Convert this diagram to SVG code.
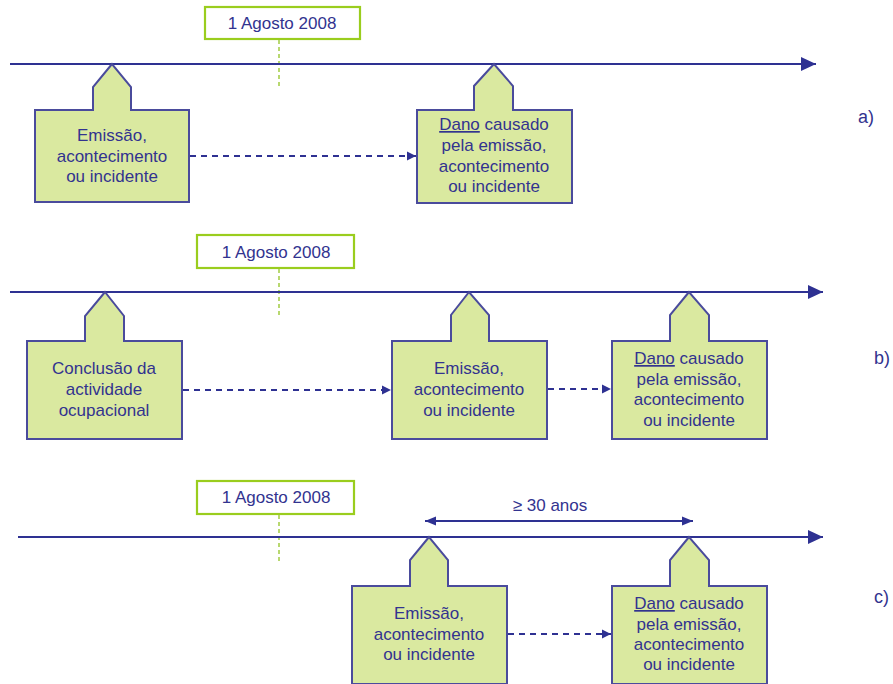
<svg xmlns="http://www.w3.org/2000/svg" width="893" height="684" viewBox="0 0 893 684">
<defs>
<style>
text{font-family:"Liberation Sans",Arial,sans-serif;font-size:17px;fill:#32338f;text-anchor:middle}
.box{fill:#dae9a0;stroke:#4a4b9c;stroke-width:2;stroke-linejoin:miter}
.date{fill:#fff;stroke:#9acd1e;stroke-width:2.2}
.vdot{stroke:#b8d870;stroke-width:2;stroke-dasharray:4,3}
.tl{stroke:#2e3192;stroke-width:2;fill:none}
.dash{stroke:#2e3192;stroke-width:1.8;stroke-dasharray:6,5;fill:none}
.lbl{font-size:18px;text-anchor:start}
</style>
<marker id="big" markerWidth="16" markerHeight="14" refX="15" refY="7" orient="auto" markerUnits="userSpaceOnUse"><path d="M0,0 L15,7 L0,14 Z" fill="#2e3192"/></marker>
<marker id="sm" markerWidth="10" markerHeight="10" refX="9" refY="5" orient="auto" markerUnits="userSpaceOnUse"><path d="M0,0.5 L9,5 L0,9.5 Z" fill="#2e3192"/></marker>
<marker id="smr" markerWidth="12" markerHeight="10" refX="11" refY="5" orient="auto-start-reverse" markerUnits="userSpaceOnUse"><path d="M0,0.5 L11,5 L0,9.5 Z" fill="#2e3192"/></marker>
</defs>

<!-- Panel a -->
<g id="date-a"><rect class="date" x="205" y="7" width="155" height="32"/><text x="282" y="29">1 Agosto 2008</text></g>
<g id="timeline-a"><line class="vdot" x1="279" y1="40" x2="279" y2="89"/><line class="tl" x1="10" y1="64" x2="816" y2="64" marker-end="url(#big)"/></g>
<g id="a-emissao"><path class="box" d="M112,64 L93,87 L93,110 L35,110 L35,202 L189,202 L189,110 L131,110 L131,87 Z"/>
<text x="112" y="141">Emissão,</text><text x="112" y="162">acontecimento</text><text x="112" y="182">ou incidente</text></g>
<g id="a-dano"><path class="box" d="M494,64 L474,86 L474,110 L417,110 L417,203 L572,203 L572,110 L513,110 L513,86 Z"/>
<text x="494" y="130"><tspan text-decoration="underline">Dano</tspan> causado</text><text x="494" y="151">pela emissão,</text><text x="494" y="172">acontecimento</text><text x="494" y="192">ou incidente</text></g>
<text class="lbl" x="858" y="123">a)</text>

<!-- Panel b -->
<g id="date-b"><rect class="date" x="197" y="235" width="157" height="33"/><text x="276" y="258">1 Agosto 2008</text></g>
<g id="timeline-b"><line class="vdot" x1="279" y1="269" x2="279" y2="318"/><line class="tl" x1="10" y1="292" x2="823" y2="292" marker-end="url(#big)"/></g>
<g id="b-conclusao"><path class="box" d="M105,292 L85,316 L85,341 L27,341 L27,439 L182,439 L182,341 L124,341 L124,316 Z"/>
<text x="104" y="374">Conclusão da</text><text x="104" y="395">actividade</text><text x="104" y="416">ocupacional</text></g>
<g id="b-emissao"><path class="box" d="M469,292 L451,315 L451,341 L392,341 L392,439 L547,439 L547,341 L489,341 L489,315 Z"/>
<text x="469" y="374">Emissão,</text><text x="469" y="395">acontecimento</text><text x="469" y="416">ou incidente</text></g>
<g id="b-dano"><path class="box" d="M689,292 L670,315 L670,341 L612,341 L612,439 L767,439 L767,341 L709,341 L709,315 Z"/>
<text x="689" y="364"><tspan text-decoration="underline">Dano</tspan> causado</text><text x="689" y="385">pela emissão,</text><text x="689" y="405">acontecimento</text><text x="689" y="426">ou incidente</text></g>
<text class="lbl" x="874" y="364">b)</text>

<!-- Panel c -->
<g id="date-c"><rect class="date" x="197" y="481" width="157" height="33"/><text x="276" y="503">1 Agosto 2008</text></g>
<g id="timeline-c"><line class="vdot" x1="279" y1="515" x2="279" y2="563"/><line class="tl" x1="18" y1="537" x2="823" y2="537" marker-end="url(#big)"/></g>
<g id="c-emissao"><path class="box" d="M429,537 L410,560 L410,586 L352,586 L352,684 L507,684 L507,586 L448,586 L448,560 Z"/>
<text x="429" y="619">Emissão,</text><text x="429" y="640">acontecimento</text><text x="429" y="660">ou incidente</text></g>
<g id="c-dano"><path class="box" d="M689,537 L670,560 L670,586 L612,586 L612,684 L767,684 L767,586 L709,586 L709,560 Z"/>
<text x="689" y="609"><tspan text-decoration="underline">Dano</tspan> causado</text><text x="689" y="630">pela emissão,</text><text x="689" y="650">acontecimento</text><text x="689" y="670">ou incidente</text></g>
<text x="550" y="511">≥ 30 anos</text>
<text class="lbl" x="874" y="603">c)</text>

<!-- connectors -->
<g id="connectors">
<line class="dash" x1="190" y1="156" x2="416" y2="156" marker-end="url(#sm)"/>
<line class="dash" x1="183" y1="390" x2="391" y2="390" marker-end="url(#sm)"/>
<line class="dash" x1="548" y1="389" x2="611" y2="389" marker-end="url(#sm)"/>
<line class="dash" x1="508" y1="634" x2="611" y2="634" marker-end="url(#sm)"/>
<line class="tl" x1="425" y1="521" x2="693" y2="521" marker-start="url(#smr)" marker-end="url(#smr)"/>
</g>
</svg>
